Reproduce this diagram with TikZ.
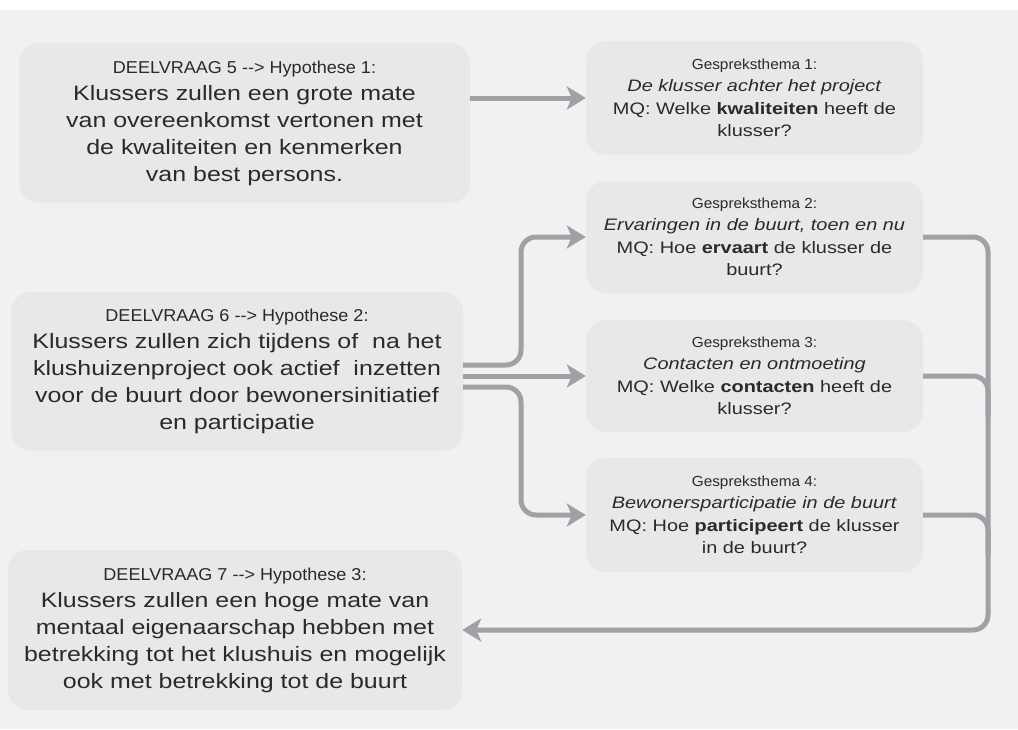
\documentclass[tikz,border=0pt]{standalone}
\usepackage{fontspec}
\usetikzlibrary{arrows.meta,calc}
\newfontfamily\bodyfont[FakeStretch=1.2]{Liberation Sans}
\newfontfamily\capfont[FakeStretch=1.05]{Liberation Sans}
\definecolor{pagebg}{RGB}{241,241,241}
\definecolor{boxbg}{RGB}{232,232,232}
\definecolor{ink}{RGB}{42,42,42}
\definecolor{linkc}{RGB}{160,160,166}
\newcommand{\hyphead}[1]{{\capfont\fontsize{17.2}{27}\selectfont #1}}
\newcommand{\themehead}[1]{{\capfont\fontsize{14.6}{22.5}\selectfont #1}}

\begin{document}
\begin{tikzpicture}[x=1pt,y=-1pt,
  hyp/.style={fill=boxbg, rounded corners=20pt, align=center, text=ink, inner sep=0pt,
    font=\bodyfont\fontsize{20.8}{27}\selectfont},
  theme/.style={fill=boxbg, rounded corners=20pt, align=center, text=ink, inner sep=0pt,
    minimum width=337pt, font=\bodyfont\fontsize{16.6}{22.5}\selectfont},
  link/.style={draw=linkc, line width=5pt, rounded corners=15pt},
  arrow/.style={link, -{Stealth[length=19pt,width=23pt,inset=5pt]}},
]
% page background
\useasboundingbox (0,0) rectangle (1018,729);
\fill[white] (0,0) rectangle (1018,729);
\fill[pagebg] (0,10) rectangle (1018,729);

% hypotheses
\node[hyp, minimum width=451pt, minimum height=160pt] (h1) at (244.5,123)
  {\hyphead{DEELVRAAG 5 -{}-> Hypothese 1:}\\
   Klussers zullen een grote mate\\
   van overeenkomst vertonen met\\
   de kwaliteiten en kenmerken\\
   van best persons.};
\node[hyp, minimum width=452pt, minimum height=159pt] (h2) at (237,371.5)
  {\hyphead{DEELVRAAG 6 -{}-> Hypothese 2:}\\
   Klussers zullen zich tijdens of\ \ na het\\
   klushuizenproject ook actief\ \ inzetten\\
   voor de buurt door bewonersinitiatief\\
   en participatie};
\node[hyp, minimum width=454pt, minimum height=160pt] (h3) at (235,630)
  {\hyphead{DEELVRAAG 7 -{}-> Hypothese 3:}\\
   Klussers zullen een hoge mate van\\
   mentaal eigenaarschap hebben met\\
   betrekking tot het klushuis en mogelijk\\
   ook met betrekking tot de buurt};

% interview themes
\node[theme, minimum height=114pt] (g1) at (754.5,98)
  {\themehead{Gespreksthema 1:}\\
   \textit{De klusser achter het project}\\
   MQ: Welke \textbf{kwaliteiten} heeft de\\
   klusser?};
\node[theme, minimum height=112pt] (g2) at (754.5,237)
  {\themehead{Gespreksthema 2:}\\
   \textit{Ervaringen in de buurt, toen en nu}\\
   MQ: Hoe \textbf{ervaart} de klusser de\\
   buurt?};
\node[theme, minimum height=112pt] (g3) at (754.5,376)
  {\themehead{Gespreksthema 3:}\\
   \textit{Contacten en ontmoeting}\\
   MQ: Welke \textbf{contacten} heeft de\\
   klusser?};
\node[theme, minimum height=114pt] (g4) at (754.5,515)
  {\themehead{Gespreksthema 4:}\\
   \textit{Bewonersparticipatie in de buurt}\\
   MQ: Hoe \textbf{participeert} de klusser\\
   in de buurt?};

% connectors
\coordinate (fork) at (521,0);
\coordinate (rail) at (988,0);
\draw[arrow] (h1.east |- g1.west) -- (g1.west);
\draw[arrow] (h2.east |- g3.west) -- (g3.west);
\draw[arrow] ($(h2.east |- g3.west)+(0,-11)$) -| (fork |- g2.west) -- (g2.west);
\draw[arrow] ($(h2.east |- g3.west)+(0,11)$) -| (fork |- g4.west) -- (g4.west);
\draw[arrow] (g2.east) -| (rail |- h3.east) -- (h3.east);
\draw[link] (g3.east) -| ($(rail |- g3.east)+(0,40)$);
\draw[link] (g4.east) -| ($(rail |- g4.east)+(0,40)$);
\end{tikzpicture}
\end{document}
